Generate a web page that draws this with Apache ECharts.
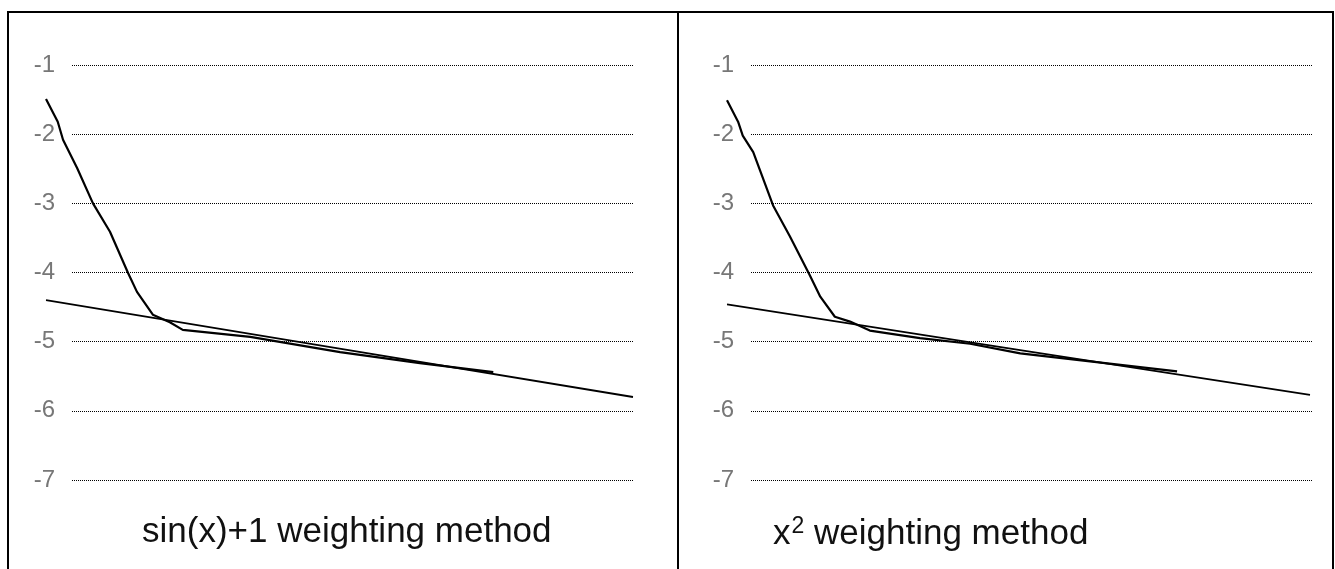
<!DOCTYPE html>
<html>
<head>
<meta charset="utf-8">
<script src="https://cdn.jsdelivr.net/npm/echarts@6/dist/echarts.min.js"></script>
<style>
  html, body { margin: 0; padding: 0; background: #fff; }
  #chart { width: 1335px; height: 569px; }
</style>
</head>
<body>
<div id="chart"></div>
<script>
// y ticks shown on both panels
var yTicks = [-1, -2, -3, -4, -5, -6, -7]

// sin(x)+1 weighting panel: [step, log error]
var sinCurve = [
  [0, -1.49], [2.0, -1.82], [2.9, -2.08], [5.3, -2.49], [8.0, -3.00],
  [10.9, -3.41], [14.0, -4.01], [15.5, -4.28], [18.2, -4.61], [21.1, -4.72],
  [23.3, -4.83], [34.8, -4.93], [50.1, -5.15], [63.7, -5.31], [76.2, -5.44]
]
var sinLine = [[0, -4.40], [50, -5.10], [100, -5.80]]

// x^2 weighting panel
var sqCurve = [
  [0, -1.51], [1.9, -1.82], [2.7, -2.02], [4.5, -2.26], [7.9, -3.03],
  [10.8, -3.48], [14.2, -4.04], [16.0, -4.35], [18.5, -4.64], [21.1, -4.71],
  [24.5, -4.84], [33.1, -4.95], [41.7, -5.03], [50.3, -5.17], [77.2, -5.43]
]
var sqLine = [[0, -4.46], [50, -5.12], [100, -5.77]]

var font = '"Liberation Sans", Arial, sans-serif'

function axisY(gridIndex, show) {
  return {
    type: 'value',
    gridIndex: gridIndex,
    min: yTicks[yTicks.length - 1],
    max: yTicks[0],
    interval: 1,
    show: true,
    axisLine: { show: false },
    axisTick: { show: false },
    axisLabel: {
      show: show,
      margin: 17,
      color: '#777',
      fontFamily: font,
      fontSize: 24
    },
    splitLine: {
      show: show,
      lineStyle: { color: '#000', width: 1, type: [1, 1] }
    }
  }
}

function axisX(gridIndex) {
  return { type: 'value', gridIndex: gridIndex, min: 0, max: 100, show: false }
}

function lineSeries(data, idx, w) {
  return {
    type: 'line',
    xAxisIndex: idx,
    yAxisIndex: idx,
    data: data,
    showSymbol: false,
    symbol: 'none',
    silent: true,
    lineStyle: { color: '#000', width: w }
  }
}

var chart = echarts.init(document.getElementById('chart'))
chart.setOption({
  animation: false,
  backgroundColor: '#fff',
  grid: [
    { left: 72, width: 562, top: 65, height: 415 },
    { left: 46, width: 587, top: 65, height: 415 },
    { left: 751, width: 561, top: 65, height: 415 },
    { left: 727, width: 583, top: 65, height: 415 }
  ],
  xAxis: [axisX(0), axisX(1), axisX(2), axisX(3)],
  yAxis: [axisY(0, true), axisY(1, false), axisY(2, true), axisY(3, false)],
  title: [
    {
      text: 'sin(x)+1 weighting method',
      left: 137,
      top: 510,
      textStyle: { fontFamily: font, fontSize: 35, fontWeight: 'normal', color: '#111' }
    },
    {
      text: '{b|x}{s|2}{b| weighting method}',
      left: 768,
      top: 510,
      textStyle: {
        fontFamily: font,
        fontWeight: 'normal',
        rich: {
          b: { fontFamily: font, fontSize: 35, fontWeight: 'normal', color: '#111' },
          s: { fontFamily: font, fontSize: 23, fontWeight: 'normal', color: '#111', verticalAlign: 'top', padding: [0, 0, 16, 1] }
        }
      }
    }
  ],
  graphic: [
    { type: 'rect', shape: { x: 8, y: 12, width: 670, height: 600 }, style: { fill: 'none', stroke: '#000', lineWidth: 2 } },
    { type: 'rect', shape: { x: 678, y: 12, width: 655, height: 600 }, style: { fill: 'none', stroke: '#000', lineWidth: 2 } }
  ],
  series: [
    lineSeries(sinLine, 1, 1.8),
    lineSeries(sinCurve, 1, 2.2),
    lineSeries(sqLine, 3, 1.8),
    lineSeries(sqCurve, 3, 2.2)
  ]
})
</script>
</body>
</html>
